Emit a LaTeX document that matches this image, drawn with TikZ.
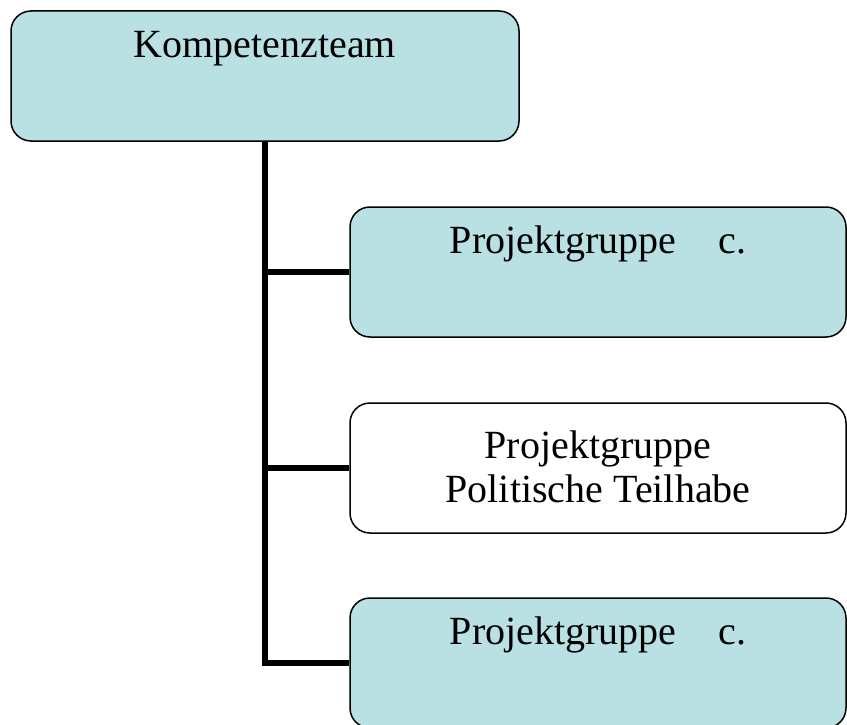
\documentclass[tikz,border=0pt]{standalone}
\usepackage{fontspec}
\setmainfont{Liberation Serif}
\usetikzlibrary{positioning, backgrounds, calc}
\definecolor{orgcyan}{RGB}{185,224,227}
\tikzset{
    x=1pt, y=-1pt,
    font=\fontsize{40}{44}\selectfont,
    org_box/.style={
        rectangle,
        rounded corners=20pt,
        draw=black,
        line width=1.5pt,
        inner xsep=0pt,
        inner ysep=0pt,
        minimum height=130pt,
        align=center
    },
    org_team/.style={
        org_box,
        fill=orgcyan,
        minimum width=508pt,
        text height=47pt,
        text depth=83pt
    },
    org_group/.style={
        org_box,
        fill=orgcyan,
        minimum width=496pt,
        text height=46pt,
        text depth=84pt
    },
    org_group_plain/.style={
        org_box,
        fill=white,
        minimum width=496pt,
        text height=99pt,
        text depth=31pt
    },
    org_line/.style={
        line width=6pt,
        miter limit=10
    }
}

\begin{document}
\begin{tikzpicture}

\useasboundingbox (0,0) rectangle (847,725);

% --- Boxes ---
\node[org_team] (Team) at (265,76) {Kompetenzteam};
\node[org_group] (GroupA) at (598,272) {Projektgruppe\hspace{42pt}c.};
\node[org_group_plain] (GroupPol) at (598,468) {Projektgruppe\\Politische Teilhabe};
\node[org_group] (GroupB) at (598,663) {Projektgruppe\hspace{42pt}c.};

% --- Edges ---
\begin{scope}[on background layer]
\draw[org_line] (Team.south) |- (GroupB.west);
\draw[org_line] (Team.south |- GroupA.west) -- (GroupA.west);
\draw[org_line] (Team.south |- GroupPol.west) -- (GroupPol.west);
\end{scope}

\end{tikzpicture}
\end{document}
